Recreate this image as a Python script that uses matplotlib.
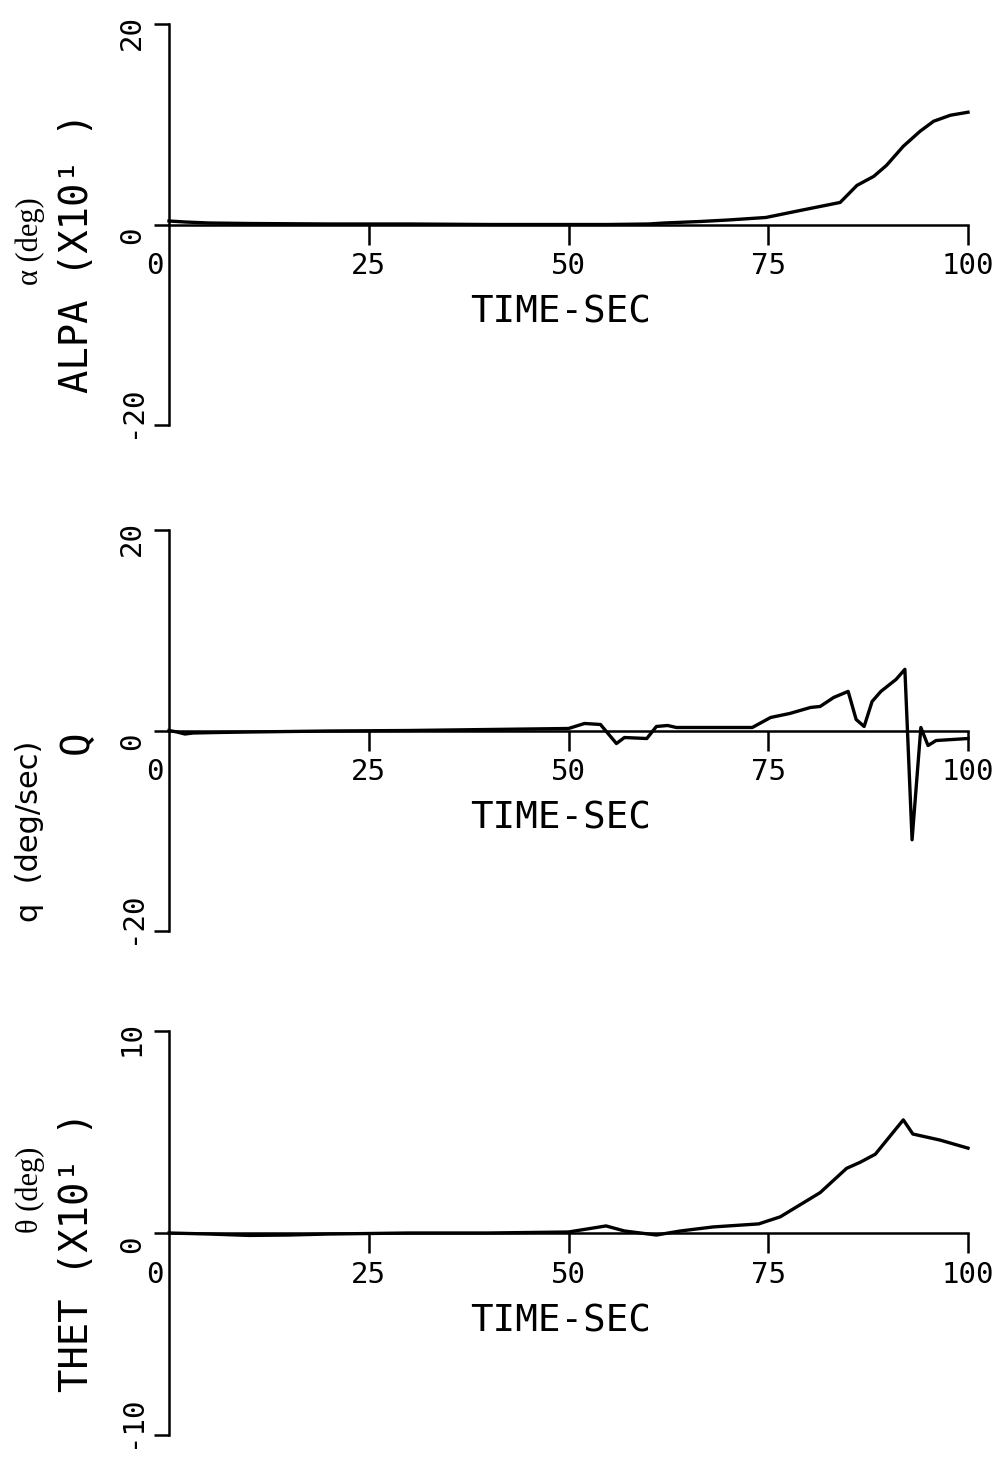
import matplotlib
matplotlib.use('Agg')
import matplotlib.pyplot as plt
from matplotlib.transforms import offset_copy

W, H = 1006, 1457

# angle of attack (x10 deg)
time_alpha = [0, 2, 5, 10, 20, 30, 40, 50, 55, 60, 62, 66.5, 70, 74.7, 79, 81.5,
              84, 86.1, 88.2, 89.8, 91.9, 94, 95.7, 97.8, 100]
alpha = [0.35, 0.25, 0.15, 0.1, 0.05, 0.05, 0.0, 0.0, 0.0, 0.05, 0.15, 0.3, 0.45, 0.7, 1.4, 1.8,
         2.2, 3.9, 4.8, 5.9, 7.8, 9.3, 10.3, 10.9, 11.2]

# pitch rate (deg/sec)
time_q = [0, 1, 2, 3, 6, 10, 20, 30, 50, 52, 54, 56, 57, 59.8, 61, 62.4, 63.5, 73,
          75.3, 77.7, 80.3, 81.5, 83.2, 85, 86, 87, 88, 89.1, 91, 92.1, 93, 94.1,
          95, 96, 100]
q = [0, -0.15, -0.35, -0.25, -0.2, -0.15, -0.05, 0.0, 0.2, 0.7, 0.6, -1.3, -0.7, -0.8,
     0.4, 0.5, 0.3, 0.3, 1.3, 1.7, 2.3, 2.4, 3.3, 3.9, 1.1, 0.4, 2.9, 3.9, 5.1, 6.1,
     -10.9, 0.3, -1.5, -1.0, -0.8]

# pitch angle (x10 deg)
time_theta = [0, 5, 10, 15, 20, 30, 40, 50, 54.7, 57, 61, 64, 68.1, 73.8, 76.5, 81.5,
              84.8, 86.5, 88.4, 91.9, 93.1, 96.5, 100]
theta = [0.0, -0.05, -0.12, -0.1, -0.05, 0.0, 0.0, 0.05, 0.35, 0.1, -0.1, 0.1, 0.3, 0.45,
         0.8, 2.0, 3.2, 3.5, 3.9, 5.6, 4.9, 4.6, 4.2]

x_ticks = [25, 50, 75, 100]
panels = [
    dict(t=time_alpha, y=alpha, ylim=(-20, 20), yticks=['-20', '0', '20'],
         label='ALPA (X10\u00b9 )', note='\u03b1 (deg)', note_font='Liberation Serif',
         note_size=22, px=(24, 425), label_y=253, note_y=241),
    dict(t=time_q, y=q, ylim=(-20, 20), yticks=['-20', '0', '20'],
         label='Q', note='q  (deg/sec)', note_font='DejaVu Sans',
         note_size=22, px=(530, 931), label_y=742, note_y=831),
    dict(t=time_theta, y=theta, ylim=(-10, 10), yticks=['-10', '0', '10'],
         label='THET (X10\u00b9 )', note='\u03b8 (deg)', note_font='Liberation Serif',
         note_size=22, px=(1031, 1435), label_y=1252, note_y=1190),
]

plt.rcParams['font.family'] = ['DejaVu Sans Mono', 'DejaVu Sans']

fig = plt.figure(figsize=(W / 100, H / 100), dpi=100)
left, right = 169, 968

for p in panels:
    top, bottom = p['px']
    ax = fig.add_axes([left / W, 1 - bottom / H, (right - left) / W, (bottom - top) / H])
    ax.plot(p['t'], p['y'], color='black', lw=2.4, clip_on=False)
    ax.set_xlim(0, 100)
    ax.set_ylim(*p['ylim'])
    ax.patch.set_visible(False)

    for s in ['top', 'right']:
        ax.spines[s].set_visible(False)
    ax.spines['bottom'].set_position(('data', 0))
    ax.spines['bottom'].set_bounds(0, 100)
    for s in ['bottom', 'left']:
        ax.spines[s].set_linewidth(1.8)

    ax.set_xticks(x_ticks)
    ax.set_xticklabels([str(v) for v in x_ticks])
    ax.tick_params(axis='x', direction='out', length=14.4, width=1.8, pad=5.5,
                   labelsize=21)
    lo, hi = p['ylim']
    ax.set_yticks([lo, 0, hi])
    ax.set_yticklabels([])
    ax.tick_params(axis='y', direction='out', length=11, width=1.8)

    # rotated y tick labels, as on the plotter output
    shifts = [13, -11, -8]
    for val, txt, dy in zip([lo, 0, hi], p['yticks'], shifts):
        tr = offset_copy(ax.get_yaxis_transform(), fig=fig, x=-37, y=dy, units='dots')
        ax.text(0, val, txt, transform=tr, rotation=90, ha='center', va='center',
                fontsize=21)

    # "0" on the time axis sits left of the y axis
    tr0 = offset_copy(ax.transData, fig=fig, x=-14, y=-28, units='dots')
    ax.text(0, 0, '0', transform=tr0, ha='center', va='top', fontsize=21)

    trx = offset_copy(ax.transData, fig=fig, x=0, y=-88, units='dots')
    ax.text(49, 0, 'TIME-SEC', transform=trx, ha='center', va='center', fontsize=27)

    fig.text(77 / W, 1 - p['label_y'] / H, p['label'], rotation=90, ha='center',
             va='center', fontsize=28)
    fig.text(30 / W, 1 - p['note_y'] / H, p['note'], rotation=90, ha='center',
             va='center', fontsize=p['note_size'], family=p['note_font'])

fig.savefig('out.png', dpi=100)
